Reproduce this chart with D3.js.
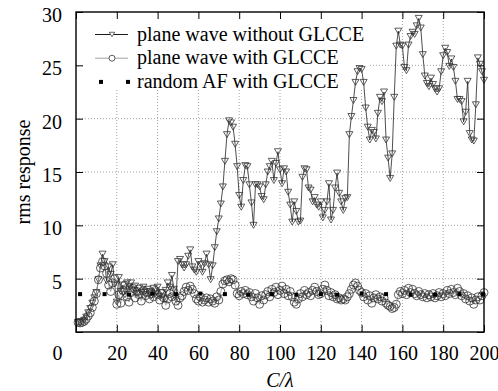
<!DOCTYPE html>
<html><head><meta charset="utf-8">
<script src="https://cdn.jsdelivr.net/npm/d3@7/dist/d3.min.js"></script>
<style>
body{margin:0;background:#fff}
svg text{font-family:"Liberation Serif","Times New Roman",Times,serif;fill:#000}
</style>
</head><body>
<svg id="chart" width="498" height="391"></svg>
<script>
// ---------- data ----------
const xTicks = [0,20,40,60,80,100,120,140,160,180,200];
const yTicks = [0,5,10,15,20,25,30];
const seriesNames = ["plane wave without GLCCE","plane wave with GLCCE","random AF with GLCCE"];
const cOverLambda = [1,2,3,4,5,6,7,8,9,10,11,12,13,14,15,16,17,18,19,20,
21,22,23,24,25,26,27,28,29,30,31,32,33,34,35,36,37,38,39,40,
41,42,43,44,45,46,47,48,49,50,51,52,53,54,55,56,57,58,59,60,
61,62,63,64,65,66,67,68,69,70,71,72,73,74,75,76,77,78,79,80,
81,82,83,84,85,86,87,88,89,90,91,92,93,94,95,96,97,98,99,100,
101,102,103,104,105,106,107,108,109,110,111,112,113,114,115,116,117,118,119,120,
121,122,123,124,125,126,127,128,129,130,131,132,133,134,135,136,137,138,139,140,
141,142,143,144,145,146,147,148,149,150,151,152,153,154,155,156,157,158,159,160,
161,162,163,164,165,166,167,168,169,170,171,172,173,174,175,176,177,178,179,180,
181,182,183,184,185,186,187,188,189,190,191,192,193,194,195,196,197,198,199,200];
const withoutGLCCE = [0.9,0.9,0.95,1.1,1.4,1.8,2.2,2.7,3.2,3.7,
4.9,6.2,7.3,6.6,4.8,6.1,5.4,6.3,4.5,2.8,
5.1,3.8,4.4,3.5,4.6,4.0,4.6,3.9,4.3,3.6,
4.1,3.7,4.2,3.5,4.0,3.8,3.4,4.1,3.6,4.2,
3.3,3.7,3.1,3.9,4.6,4.2,5.3,4.0,3.1,6.6,
6.8,6.3,6.0,6.3,7.1,7.7,6.1,5.8,5.6,6.6,
6.3,5.6,6.4,7.3,6.3,4.9,6.2,7.9,9.4,10.6,
12.0,13.6,16.0,18.5,19.8,19.6,19.2,17.6,15.5,12.8,
11.7,14.2,15.6,15.5,13.8,12.1,10.0,13.8,13.8,13.6,
12.7,12.4,13.8,15.0,15.5,16.0,14.2,15.8,16.9,15.2,
13.9,15.3,15.0,13.1,11.9,10.3,12.2,11.3,10.3,10.4,
14.5,15.3,15.2,13.5,13.3,12.2,12.6,11.9,11.7,12.2,
10.7,11.4,12.2,13.9,10.5,11.4,13.5,14.9,13.0,12.2,
11.4,12.5,12.6,18.5,20.2,21.7,23.4,24.4,24.7,24.6,
23.4,21.0,19.2,18.0,18.9,18.7,18.1,20.5,22.0,21.6,
22.5,18.0,16.3,14.4,16.7,22.0,26.8,28.2,26.9,26.8,
24.8,24.5,26.9,27.7,28.1,27.9,28.7,29.4,28.5,26.0,
24.0,23.3,23.0,23.8,23.2,22.8,22.5,22.8,24.4,25.9,
26.6,26.2,24.9,25.6,24.8,23.5,21.8,21.8,21.6,19.7,
20.6,23.5,18.6,18.0,17.9,21.3,25.7,25.1,24.4,23.6];
const withGLCCE = [0.9,0.85,0.9,1.0,1.2,1.5,1.8,2.3,2.9,3.6,
4.9,6.0,6.6,6.2,5.5,4.4,3.8,4.6,5.0,2.6,
3.5,2.7,3.9,4.4,3.3,2.8,3.7,4.1,3.2,3.8,
3.5,2.9,3.9,3.4,3.7,3.1,3.6,3.3,3.9,3.5,
3.0,3.6,3.2,2.5,3.1,3.6,3.3,3.8,2.9,2.5,
3.2,3.4,3.8,4.2,3.9,4.3,4.0,3.6,3.1,2.9,
3.3,2.8,3.0,3.2,2.8,3.1,2.9,2.7,3.3,3.0,
3.8,4.5,4.8,4.9,4.7,5.0,4.9,4.4,3.6,3.4,
3.8,3.6,3.9,3.5,3.7,3.3,2.9,3.6,3.2,2.6,
3.4,3.0,3.5,3.8,3.3,4.0,3.7,4.2,3.5,3.9,
4.3,3.6,4.0,3.4,3.8,3.3,2.8,2.6,3.1,3.6,
3.3,3.9,3.5,3.7,3.4,3.9,4.2,3.8,3.5,3.6,
4.0,4.4,3.9,3.4,3.7,3.3,3.5,3.1,3.2,3.0,
3.1,3.0,3.3,3.6,4.0,4.4,4.6,4.3,3.9,3.7,
3.3,3.6,3.0,3.4,2.7,3.2,3.5,3.1,3.3,2.9,
3.2,2.7,2.5,2.4,2.2,2.3,2.6,3.5,3.8,3.6,
3.9,3.5,4.1,3.7,4.0,3.6,3.4,3.8,3.5,3.3,
3.6,3.2,3.5,3.3,3.6,3.2,3.4,3.7,3.3,3.6,
3.4,3.9,3.6,4.0,3.7,3.5,4.1,3.8,3.4,3.6,
3.1,3.4,2.9,3.2,2.6,3.0,3.3,3.0,3.4,3.7];
const randomAFx = [2,14,26,37.5,49,61,73,84.5,96,108,120,128,140,152,164,176,188,199.5];
const randomAF  = [3.55,3.55,3.5,3.6,3.55,3.6,3.55,3.5,3.55,3.5,3.55,3.5,3.6,3.55,3.5,3.5,3.55,3.55];

// ---------- layout ----------
const svg = d3.select("#chart");
const L = 76, R = 484, T = 12, B = 332;
const x = d3.scaleLinear().domain([0,200]).range([L,R]);
const y = d3.scaleLinear().domain([0,30]).range([B,T]);
const FS = 20;

// grid
const grid = svg.append("g").attr("stroke","#8a8a8a").attr("stroke-width",0.8).attr("stroke-dasharray","1,2");
grid.selectAll("line.v").data(xTicks.filter(d=>d>0&&d<200)).join("line")
  .attr("x1",d=>x(d)).attr("x2",d=>x(d)).attr("y1",T).attr("y2",B);
grid.selectAll("line.h").data(yTicks.filter(d=>d>0&&d<30)).join("line")
  .attr("y1",d=>y(d)).attr("y2",d=>y(d)).attr("x1",L).attr("x2",R);

// legend background (covers grid)
svg.append("rect").attr("x",L+1).attr("y",T+1).attr("width",367-L).attr("height",88-T).attr("fill","#fff");

// axes (inward ticks)
const axB = svg.append("g").attr("transform",`translate(0,${B})`)
  .call(d3.axisBottom(x).tickValues(xTicks).tickSize(-7).tickPadding(14).tickFormat(d3.format("d")));
const axT = svg.append("g").attr("transform",`translate(0,${T})`)
  .call(d3.axisTop(x).tickValues(xTicks).tickSize(-7).tickFormat(""));
const axL = svg.append("g").attr("transform",`translate(${L},0)`)
  .call(d3.axisLeft(y).tickValues(yTicks).tickSize(-7).tickPadding(14).tickFormat(d=>d===0?"":d));
const axR = svg.append("g").attr("transform",`translate(${R},0)`)
  .call(d3.axisRight(y).tickValues(yTicks).tickSize(-7).tickFormat(""));
[axB,axT,axL,axR].forEach(g=>{
  g.attr("font-family",null);
  g.select(".domain").remove();
  g.selectAll(".tick line").attr("stroke","#000").attr("stroke-width",1);
  g.selectAll("text").attr("font-size",FS).attr("fill","#000");
});
axL.selectAll(".tick text").attr("dy","0.47em");
axB.selectAll(".tick text").filter(d=>d===0).attr("dx",-19);

// data
const pts1 = cOverLambda.map((c,i)=>[c,withoutGLCCE[i]]);
const pts2 = cOverLambda.map((c,i)=>[c,withGLCCE[i]]);
const line = d3.line().x(d=>x(d[0])).y(d=>y(d[1]));
const tri = (cx,cy,w,h)=>`M${cx-w/2},${cy-h/2}L${cx+w/2},${cy-h/2}L${cx},${cy+h/2}Z`;

svg.append("path").datum(pts1).attr("d",line).attr("fill","none").attr("stroke","#222").attr("stroke-width",0.8);
svg.append("g").selectAll("path").data(pts1).join("path")
  .attr("d",d=>tri(x(d[0]),y(d[1]),7,6)).attr("fill","none").attr("stroke","#333").attr("stroke-width",0.8);

svg.append("path").datum(pts2).attr("d",line).attr("fill","none").attr("stroke","#999").attr("stroke-width",0.8);
svg.append("g").selectAll("circle").data(pts2).join("circle")
  .attr("cx",d=>x(d[0])).attr("cy",d=>y(d[1])).attr("r",4).attr("fill","none").attr("stroke","#333").attr("stroke-width",0.8);

svg.append("g").selectAll("rect").data(randomAFx.map((c,i)=>[c,randomAF[i]])).join("rect")
  .attr("x",d=>x(d[0])-2).attr("y",d=>y(d[1])-2).attr("width",4).attr("height",4).attr("fill","#000");

// frame
svg.append("rect").attr("x",L).attr("y",T).attr("width",R-L).attr("height",B-T)
  .attr("fill","none").attr("stroke","#000").attr("stroke-width",1.4);

// legend
const rows = [34.5, 58.2, 81.9];
const lg = svg.append("g");
lg.append("line").attr("x1",95).attr("x2",128).attr("y1",rows[0]).attr("y2",rows[0]).attr("stroke","#000").attr("stroke-width",0.9);
lg.append("path").attr("d",tri(112,rows[0],5.5,4.5)).attr("fill","#fff").attr("stroke","#444").attr("stroke-width",0.8);
lg.append("line").attr("x1",95).attr("x2",128).attr("y1",rows[1]).attr("y2",rows[1]).attr("stroke","#999").attr("stroke-width",0.9);
lg.append("circle").attr("cx",112).attr("cy",rows[1]).attr("r",3).attr("fill","#fff").attr("stroke","#333").attr("stroke-width",0.8);
[101,128].forEach(px=>lg.append("rect").attr("x",px-2).attr("y",rows[2]-2).attr("width",4).attr("height",4).attr("fill","#000"));
lg.selectAll("text").data(seriesNames).join("text")
  .attr("x",137).attr("y",(d,i)=>rows[i]+6).attr("font-size",FS).text(d=>d);

// axis titles
svg.append("text").attr("transform",`translate(30,${(T+B)/2}) rotate(-90)`).attr("text-anchor","middle")
  .attr("font-size",FS).text("rms response");
svg.append("text").attr("x",(L+R)/2).attr("y",387).attr("text-anchor","middle").attr("font-size",FS)
  .attr("font-style","italic").text("C/λ");
</script>
</body></html>
